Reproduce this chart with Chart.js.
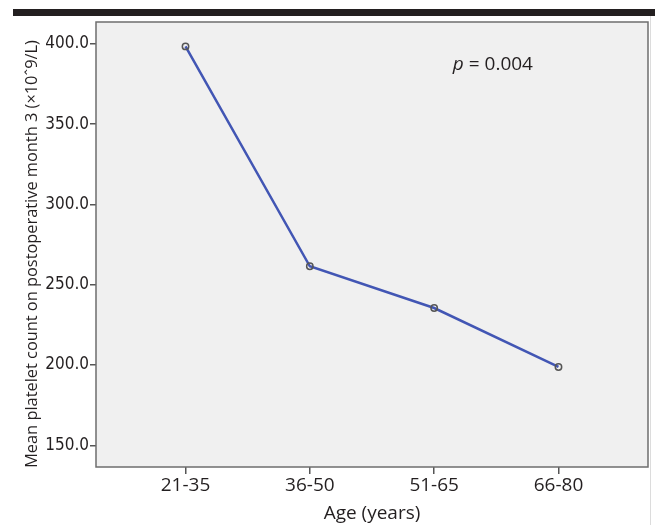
<!DOCTYPE html>
<html>
<head>
<meta charset="utf-8">
<script src="https://cdn.jsdelivr.net/npm/chart.js@4"></script>
<style>
  html, body { margin: 0; padding: 0; background: #fff; }
  #wrap { position: relative; width: 655px; height: 525px; }
  #topbar { position: absolute; left: 13px; top: 9px; width: 642px; height: 7px; background: #231f20; }
  #edge { position: absolute; left: 650px; top: 16px; width: 1px; height: 509px; background: #dcdcdc; }
  canvas { position: absolute; left: 0; top: 0; }
</style>
</head>
<body>
<div id="wrap">
  <canvas id="chart" width="655" height="525"></canvas>
  <div id="topbar"></div>
  <div id="edge"></div>
</div>
<script>
// Mean platelet count by age group
const ageGroups = ['21-35', '36-50', '51-65', '66-80'];
const meanPlatelets = [398.4, 261.5, 235.5, 198.8];
const yTicks = [150, 200, 250, 300, 350, 400];
const yTitle = 'Mean platelet count on postoperative month 3 (×10ˆ9/L)';
const pLabel = '= 0.004';

const FONT = "'Open Sans', 'Noto Sans', sans-serif";
const NARROW = "'Liberation Sans Narrow', 'DejaVu Sans Condensed', sans-serif";
const INK = '#231f20';

// fondo gris, marco, titulo Y y valor p
const plotFrame = {
  id: 'plotFrame',
  beforeDraw(chart) {
    const { ctx, chartArea: a } = chart;
    ctx.save();
    ctx.fillStyle = '#f0f0f0';
    ctx.fillRect(a.left, a.top, a.right - a.left, a.bottom - a.top);
    ctx.restore();
  },
  afterDraw(chart) {
    const { ctx, chartArea: a, scales } = chart;
    ctx.save();
    ctx.strokeStyle = '#6e6e6e';
    ctx.lineWidth = 1.5;
    ctx.strokeRect(a.left, a.top, a.right - a.left, a.bottom - a.top);

    // p value
    const x = scales.x.getPixelForValue(2.15);
    const y = scales.y.getPixelForValue(384);
    ctx.fillStyle = INK;
    ctx.textBaseline = 'alphabetic';
    ctx.font = 'italic 19px ' + FONT;
    ctx.fillText('p', x, y);
    const w = ctx.measureText('p ').width;
    ctx.font = '19px ' + FONT;
    ctx.fillText(pLabel, x + w, y);

    // y title, rotated, sized to span ~428px
    ctx.font = '19px ' + FONT;
    const size = 19 * 428 / ctx.measureText(yTitle).width;
    ctx.font = size.toFixed(2) + 'px ' + FONT;
    ctx.translate(37, 254);
    ctx.rotate(-Math.PI / 2);
    ctx.textAlign = 'center';
    ctx.fillText(yTitle, 0, 0);
    ctx.restore();
  }
};

new Chart(document.getElementById('chart'), {
  type: 'line',
  data: {
    datasets: [{
      data: meanPlatelets.map((v, i) => ({ x: i, y: v })),
      borderColor: '#4256b4',
      borderWidth: 2.5,
      tension: 0,
      pointRadius: 3.2,
      pointBorderWidth: 1.5,
      pointBorderColor: '#555',
      pointBackgroundColor: 'rgba(0,0,0,0)'
    }]
  },
  options: {
    responsive: false,
    animation: false,
    layout: { padding: { left: 0, right: 7, top: 22, bottom: 0 } },
    plugins: { legend: { display: false }, tooltip: { enabled: false } },
    scales: {
      x: {
        type: 'linear',
        min: -0.72,
        max: 3.72,
        afterBuildTicks: s => { s.ticks = ageGroups.map((_, i) => ({ value: i })); },
        afterFit: s => { s.height = 58; },
        ticks: {
          callback: v => ageGroups[v],
          color: INK,
          font: { family: FONT, size: 19 },
          padding: 0,
          maxRotation: 0
        },
        grid: { drawOnChartArea: false, drawTicks: true, tickLength: 7, color: '#555', lineWidth: 1.5 },
        border: { display: false },
        title: {
          display: true,
          text: 'Age (years)',
          color: INK,
          font: { family: FONT, size: 19 },
          padding: { top: 0, bottom: 0 }
        }
      },
      y: {
        min: 136.5,
        max: 413.6,
        afterBuildTicks: s => { s.ticks = yTicks.map(v => ({ value: v })); },
        afterFit: s => { s.width = 96; },
        ticks: {
          callback: v => v.toFixed(1),
          color: INK,
          font: { family: NARROW, size: 17 },
          padding: 1
        },
        grid: { drawOnChartArea: false, drawTicks: true, tickLength: 6, color: '#555', lineWidth: 1.5 },
        border: { display: false }
      }
    }
  },
  plugins: [plotFrame]
});
</script>
</body>
</html>
